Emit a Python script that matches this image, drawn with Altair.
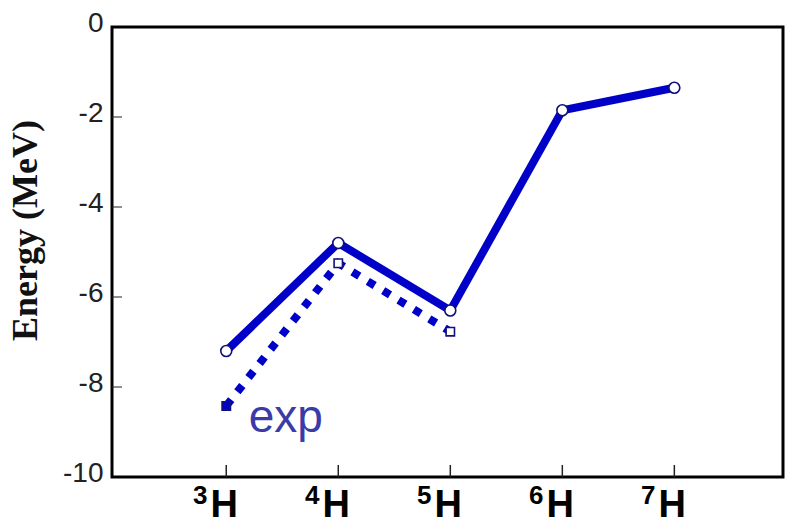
import altair as alt
import pandas as pd

# ---- data ----
mass_numbers = [3, 4, 5, 6, 7]
superscripts = ["3", "4", "5", "6", "7"]
theory_energy = [-7.2, -4.8, -6.3, -1.85, -1.35]

exp_mass = [3, 4, 5]
exp_energy = [-8.42, -5.25, -6.77]

y_ticks = [-10, -8, -6, -4, -2, 0]
y_inner_ticks = [-8, -6, -4, -2]

annot_text = ["exp"]
annot_x = [3.2]
annot_y = [-9.0]

BLUE = "#0000c8"
NAVY = "#10107a"
W, H = 671, 450

theory = pd.DataFrame({"A": mass_numbers, "E": theory_energy})
exp = pd.DataFrame({"A": exp_mass, "E": exp_energy})
labels = pd.DataFrame({"A": mass_numbers, "sup": superscripts, "el": ["H"] * len(mass_numbers)})
ytk = pd.DataFrame({"E": y_inner_ticks})
annot = pd.DataFrame({"t": annot_text, "A": annot_x, "E": annot_y})

xs = alt.Scale(domain=[1.98, 7.97], nice=False, zero=False)
ys = alt.Scale(domain=[-10, 0], nice=False, zero=False)

X = alt.X("A:Q", scale=xs, axis=None)
Y = alt.Y(
    "E:Q",
    scale=ys,
    axis=alt.Axis(
        values=y_ticks,
        labelExpr="toString(datum.value)",
        title="Energy (MeV)",
        grid=False,
        domain=False,
        ticks=False,
        labelFont="Liberation Sans",
        labelFontSize=28,
        labelColor="#222222",
        labelPadding=9,
        labelOffset=-4,
        titleFont="Liberation Serif",
        titleFontWeight="bold",
        titleFontSize=36,
        titleColor="#111111",
        titleX=-68,
        titleY=203,
        titleAngle=-90,
        titleBaseline="bottom",
    ),
)

exp_line = alt.Chart(exp).mark_line(
    color=BLUE, strokeWidth=8, strokeDash=[8, 10], strokeCap="butt"
).encode(x=X, y=Y)

theory_line = alt.Chart(theory).mark_line(
    color=BLUE, strokeWidth=8
).encode(x=X, y=alt.Y("E:Q", scale=ys))

exp_pts = alt.Chart(exp).mark_point(
    shape="square", size=70, strokeWidth=1.6, filled=False, opacity=1
).encode(
    x=X,
    y=alt.Y("E:Q", scale=ys),
    stroke=alt.value(NAVY),
    fill=alt.condition("datum.A == 3", alt.value(BLUE), alt.value("white")),
)

theory_pts = alt.Chart(theory).mark_point(
    shape="circle", size=120, strokeWidth=1.6, stroke=NAVY, opacity=1, filled=False
).encode(x=X, y=alt.Y("E:Q", scale=ys), fill=alt.value("white"))

ytick_rules = alt.Chart(ytk).mark_rule(color="#222222", strokeWidth=1).encode(
    y=alt.Y("E:Q", scale=ys), x=alt.value(0), x2=alt.value(10)
)

xtick_rules = alt.Chart(labels).mark_rule(color="#222222", strokeWidth=1.5).encode(
    x=X, y=alt.value(H - 12), y2=alt.value(H)
)

el_text = alt.Chart(labels).mark_text(
    font="Liberation Sans", fontWeight="bold", fontSize=38, align="center",
    baseline="alphabetic", dx=-2, color="black"
).encode(x=X, y=alt.value(H + 40), text="el:N")

sup_text = alt.Chart(labels).mark_text(
    font="Liberation Sans", fontWeight="bold", fontSize=26, align="center",
    baseline="alphabetic", dx=-26, color="black"
).encode(x=X, y=alt.value(H + 27), text="sup:N")

annot_text_mark = alt.Chart(annot).mark_text(
    font="Liberation Sans", fontSize=46, align="left", baseline="alphabetic", color="#3b3ba8"
).encode(x=X, y=alt.Y("E:Q", scale=ys), text="t:N")

chart = alt.layer(
    exp_line, theory_line, exp_pts, theory_pts, ytick_rules, xtick_rules,
    el_text, sup_text, annot_text_mark
).properties(
    width=W,
    height=H,
    autosize=alt.AutoSizeParams(type="none"),
    padding={"left": 112, "top": 27, "right": 4, "bottom": 49},
    background="white",
).configure_view(stroke="black", strokeWidth=3)

chart.save("out.html", embed_options={"renderer": "svg", "actions": False})
